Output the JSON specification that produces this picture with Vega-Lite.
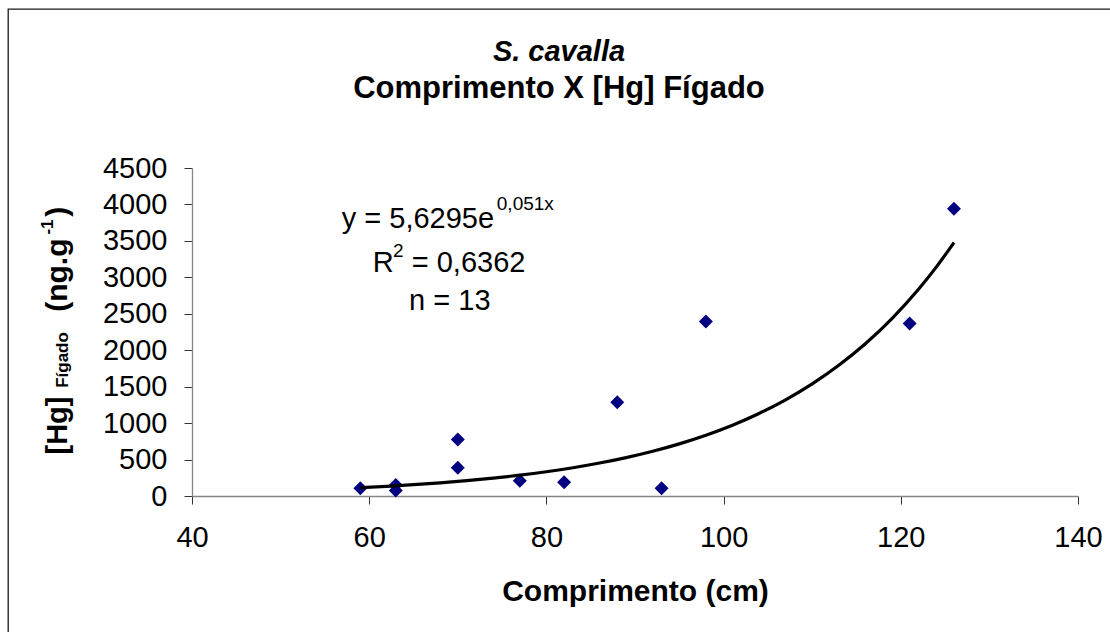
{
  "$schema": "https://vega.github.io/schema/vega-lite/v6.json",
  "width": 1102,
  "height": 623,
  "autosize": {"type": "none"},
  "padding": {"left": 8, "top": 9, "right": 0, "bottom": 0},
  "background": "white",
  "config": {
    "font": "Liberation Sans",
    "view": {"stroke": "#1a1a1a", "strokeWidth": 1.3, "strokeDash": [1102, 1725, 624, 1]}
  },
  "title": {
    "text": "S. cavalla",
    "subtitle": "Comprimento X [Hg] Fígado",
    "anchor": "middle",
    "frame": "group",
    "orient": "top",
    "offset": -95,
    "font": "Liberation Sans",
    "fontSize": 29,
    "fontWeight": "bold",
    "fontStyle": "italic",
    "color": "black",
    "subtitleFont": "Liberation Sans",
    "subtitleFontSize": 31,
    "subtitleFontWeight": "bold",
    "subtitleFontStyle": "normal",
    "subtitleColor": "black",
    "subtitlePadding": 7
  },
  "datasets": {
    "amostras": [
      {"comprimento": 59, "hg": 105},
      {"comprimento": 63, "hg": 150},
      {"comprimento": 63, "hg": 75},
      {"comprimento": 70, "hg": 775},
      {"comprimento": 70, "hg": 388},
      {"comprimento": 77, "hg": 210},
      {"comprimento": 82, "hg": 188},
      {"comprimento": 88, "hg": 1285},
      {"comprimento": 93, "hg": 105},
      {"comprimento": 98, "hg": 2395},
      {"comprimento": 121, "hg": 2368},
      {"comprimento": 126, "hg": 3940}
    ],
    "tendencia": [
      {"comprimento": 59, "hg": 114.1},
      {"comprimento": 62, "hg": 133.0},
      {"comprimento": 65, "hg": 154.9},
      {"comprimento": 68, "hg": 180.6},
      {"comprimento": 71, "hg": 210.4},
      {"comprimento": 74, "hg": 245.2},
      {"comprimento": 77, "hg": 285.7},
      {"comprimento": 80, "hg": 333.0},
      {"comprimento": 83, "hg": 388.0},
      {"comprimento": 86, "hg": 452.2},
      {"comprimento": 89, "hg": 526.9},
      {"comprimento": 92, "hg": 614.0},
      {"comprimento": 95, "hg": 715.5},
      {"comprimento": 98, "hg": 833.8},
      {"comprimento": 101, "hg": 971.7},
      {"comprimento": 104, "hg": 1132.4},
      {"comprimento": 107, "hg": 1319.5},
      {"comprimento": 110, "hg": 1537.6},
      {"comprimento": 113, "hg": 1792.5},
      {"comprimento": 116, "hg": 2088.1},
      {"comprimento": 119, "hg": 2433.4},
      {"comprimento": 122, "hg": 2835.6},
      {"comprimento": 124, "hg": 3140.1},
      {"comprimento": 126, "hg": 3477.3}
    ]
  },
  "layer": [
    {
      "data": {"name": "amostras"},
      "mark": {"type": "point", "shape": "diamond", "filled": true, "size": 195, "color": "#000080", "opacity": 1},
      "encoding": {
        "x": {
          "field": "comprimento",
          "type": "quantitative",
          "scale": {"domain": [40, 140], "range": [184, 1070], "nice": false, "zero": false},
          "axis": {
            "orient": "bottom",
            "offset": -136,
            "values": [40, 60, 80, 100, 120, 140],
            "grid": false,
            "domainColor": "#868686",
            "domainWidth": 1.3,
            "tickColor": "#333333",
            "tickSize": 8,
            "labelFontSize": 29,
            "labelColor": "black",
            "labelPadding": 19,
            "labelFlush": false,
            "labelOverlap": false,
            "title": "Comprimento (cm)",
            "titleFontSize": 30,
            "titleFontWeight": "bold",
            "titleColor": "black",
            "titlePadding": 24
          }
        },
        "y": {
          "field": "hg",
          "type": "quantitative",
          "scale": {"domain": [0, 4500], "range": [487, 159], "nice": false},
          "axis": {
            "orient": "left",
            "offset": -184,
            "values": [0, 500, 1000, 1500, 2000, 2500, 3000, 3500, 4000, 4500],
            "grid": false,
            "domainColor": "#868686",
            "domainWidth": 1.3,
            "tickColor": "#333333",
            "tickSize": 8,
            "labelFontSize": 29,
            "labelColor": "black",
            "labelPadding": 17,
            "labelOverlap": false,
            "labelFlush": false,
            "format": "d",
            "title": null
          }
        }
      }
    },
    {
      "data": {"name": "tendencia"},
      "mark": {"type": "line", "color": "black", "strokeWidth": 3.2, "interpolate": "monotone"},
      "encoding": {
        "x": {"field": "comprimento", "type": "quantitative"},
        "y": {"field": "hg", "type": "quantitative"}
      }
    },
    {
      "data": {"values": [{}]},
      "mark": {"type": "text", "text": "y = 5,6295e", "fontSize": 29, "align": "left", "baseline": "alphabetic", "color": "black"},
      "encoding": {"x": {"datum": 56.9, "type": "quantitative"}, "y": {"datum": 3683, "type": "quantitative"}}
    },
    {
      "data": {"values": [{}]},
      "mark": {"type": "text", "text": "0,051x", "fontSize": 19, "align": "left", "baseline": "alphabetic", "color": "black"},
      "encoding": {"x": {"datum": 74.4, "type": "quantitative"}, "y": {"datum": 3923, "type": "quantitative"}}
    },
    {
      "data": {"values": [{}]},
      "mark": {"type": "text", "text": "R", "fontSize": 29, "align": "left", "baseline": "alphabetic", "color": "black"},
      "encoding": {"x": {"datum": 60.4, "type": "quantitative"}, "y": {"datum": 3077, "type": "quantitative"}}
    },
    {
      "data": {"values": [{}]},
      "mark": {"type": "text", "text": "2", "fontSize": 19, "align": "left", "baseline": "alphabetic", "color": "black"},
      "encoding": {"x": {"datum": 62.7, "type": "quantitative"}, "y": {"datum": 3283, "type": "quantitative"}}
    },
    {
      "data": {"values": [{}]},
      "mark": {"type": "text", "text": "= 0,6362", "fontSize": 29, "align": "left", "baseline": "alphabetic", "color": "black"},
      "encoding": {"x": {"datum": 64.8, "type": "quantitative"}, "y": {"datum": 3077, "type": "quantitative"}}
    },
    {
      "data": {"values": [{}]},
      "mark": {"type": "text", "text": "n = 13", "fontSize": 29, "align": "left", "baseline": "alphabetic", "color": "black"},
      "encoding": {"x": {"datum": 64.5, "type": "quantitative"}, "y": {"datum": 2551, "type": "quantitative"}}
    },
    {
      "data": {"values": [{}]},
      "mark": {"type": "text", "text": "[Hg]", "fontSize": 29, "fontWeight": "bold", "angle": 270, "align": "center", "baseline": "alphabetic", "color": "black"},
      "encoding": {"x": {"datum": 25.85, "type": "quantitative"}, "y": {"datum": 967, "type": "quantitative"}}
    },
    {
      "data": {"values": [{}]},
      "mark": {"type": "text", "text": "Fígado", "fontSize": 17, "fontWeight": "bold", "angle": 270, "align": "center", "baseline": "alphabetic", "color": "black"},
      "encoding": {"x": {"datum": 26.03, "type": "quantitative"}, "y": {"datum": 1866, "type": "quantitative"}}
    },
    {
      "data": {"values": [{}]},
      "mark": {"type": "text", "text": "(ng.g", "fontSize": 30, "fontWeight": "bold", "angle": 270, "align": "center", "baseline": "alphabetic", "color": "black"},
      "encoding": {"x": {"datum": 25.85, "type": "quantitative"}, "y": {"datum": 3030, "type": "quantitative"}}
    },
    {
      "data": {"values": [{}]},
      "mark": {"type": "text", "text": "-1", "fontSize": 17, "fontWeight": "bold", "angle": 270, "align": "center", "baseline": "alphabetic", "color": "black"},
      "encoding": {"x": {"datum": 24.27, "type": "quantitative"}, "y": {"datum": 3690, "type": "quantitative"}}
    },
    {
      "data": {"values": [{}]},
      "mark": {"type": "text", "text": ")", "fontSize": 30, "fontWeight": "bold", "angle": 270, "align": "center", "baseline": "alphabetic", "color": "black"},
      "encoding": {"x": {"datum": 25.85, "type": "quantitative"}, "y": {"datum": 3900, "type": "quantitative"}}
    }
  ]
}
